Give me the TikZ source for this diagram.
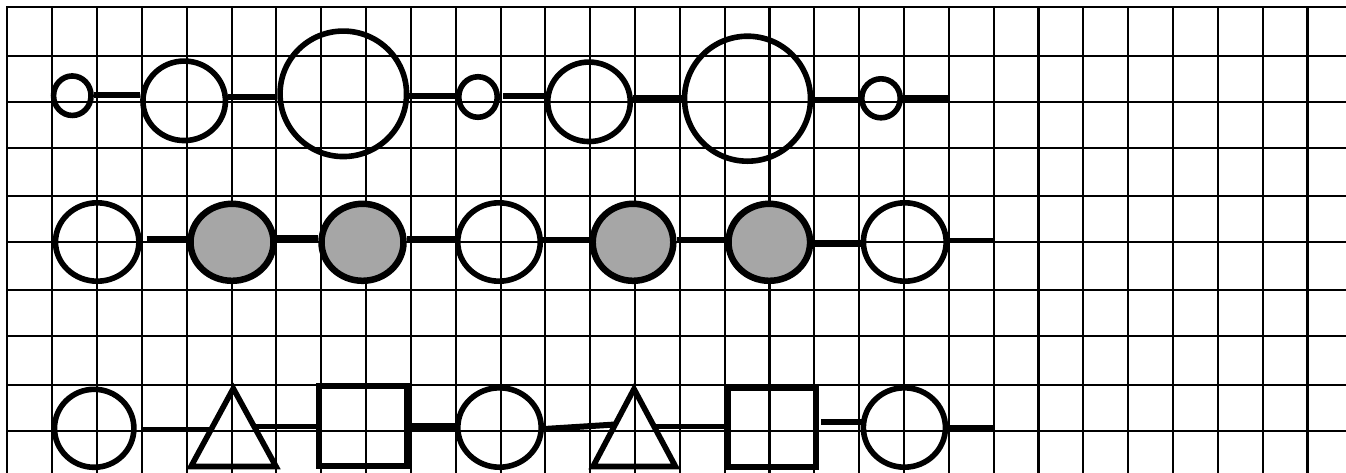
\documentclass[tikz,border=0pt]{standalone}
\usetikzlibrary{shapes.geometric,calc}
\definecolor{ink}{HTML}{000000}
\definecolor{dotfill}{HTML}{A6A6A6}

\begin{document}
\begin{tikzpicture}[
  x=1pt, y=-1pt,
  gridline/.style={draw=ink, line width=2pt, line cap=rect},
  ring/.style 2 args={
    ellipse,
    draw=ink,
    line width=5.6pt,
    inner sep=0pt,
    minimum width=#1,
    minimum height=#2
  },
  dot/.style 2 args={
    ellipse,
    draw=ink,
    fill=dotfill,
    line width=6.5pt,
    inner sep=0pt,
    minimum width=#1,
    minimum height=#2
  },
  block/.style 2 args={
    rectangle,
    draw=ink,
    line width=6pt,
    inner sep=0pt,
    minimum width=#1,
    minimum height=#2
  },
  tri/.style={draw=ink, line width=5.6pt, line join=miter},
  link/.style={draw=ink, line width=6pt},
  thinlink/.style={draw=ink, line width=5pt},
  thicklink/.style={draw=ink, line width=8pt}
]

% canvas
\useasboundingbox (0,0) rectangle (1346,472);

% Grid
\foreach \k in {0,...,29}
  \draw[gridline] ({7.3+44.84*\k},7.3) -- ({7.3+44.84*\k},472);
\foreach \k in {17,23,29}
  \draw[gridline, line width=2.8pt] ({7.3+44.84*\k},7.3) -- ({7.3+44.84*\k},472);
\foreach \y in {7.3,55.7,101.7,147.7,195.7,241.7,289.7,335.7,384.7,430.7}
  \draw[gridline] (7.3,\y) -- (1346,\y);

% Top row: circles of three sizes
\node[ring={37.5pt}{39.5pt}] (s1) at (72.3,95.7) {};
\node[ring={82.5pt}{79.5pt}] (s2) at (184.2,100.8) {};
\node[ring={126.5pt}{125.5pt}] (s3) at (343.3,93.8) {};
\node[ring={38.5pt}{40.5pt}] (s4) at (478,97) {};
\node[ring={82.5pt}{79.5pt}] (s5) at (589,101.8) {};
\node[ring={126pt}{125pt}] (s6) at (747.5,98.7) {};
\node[ring={38.5pt}{39pt}] (s7) at (881,98.3) {};

\draw[link] (s1.east |- 0,95) -- (s2.west |- 0,95);
\draw[link] (s2.east |- 0,96.7) -- (s3.west |- 0,96.7);
\draw[link] (s3.east |- 0,96) -- (s4.west |- 0,96);
\draw[link, shorten <=3pt] (s4.east |- 0,95.7) -- (s5.west |- 0,95.7);
\draw[thicklink] (s5.east |- 0,99) -- (s6.west |- 0,99);
\draw[thinlink] (s6.east |- 0,99.3) -- (s7.west |- 0,99.3);
\coordinate (e1) at (948.3,98.3);
\draw[link] (s7.east |- e1) -- (e1);

% Middle row: white and grey circles
\node[ring={83.4pt}{78.4pt}] (m1) at (97.2,242) {};
\node[dot={83pt}{77pt}] (m2) at (232,242.3) {};
\node[dot={82pt}{77pt}] (m3) at (362.5,242.3) {};
\node[ring={82.5pt}{78.4pt}] (m4) at (499,242) {};
\node[dot={80.6pt}{77pt}] (m5) at (633,242.3) {};
\node[dot={81.6pt}{77pt}] (m6) at (769.3,242.3) {};
\node[ring={82.8pt}{78.4pt}] (m7) at (904.8,242) {};

\draw[link, shorten <=5pt] (m1.east |- 0,239.3) -- (m2.west |- 0,239.3);
\draw[thicklink] (m2.east |- 0,239) -- (m3.west |- 0,239);
\draw[link] (m3.east |- 0,239.3) -- (m4.west |- 0,239.3);
\draw[link] (m4.east |- 0,240) -- (m5.west |- 0,240);
\draw[link] (m5.east |- 0,240) -- (m6.west |- 0,240);
\draw[link, line width=7pt] (m6.east |- 0,243.3) -- (m7.west |- 0,243.3);
\coordinate (e2) at (994.7,240);
\draw[thinlink] (m7.east |- e2) -- (e2);

% Bottom row: circle, triangle, square
\node[ring={79.4pt}{78pt}] (o1) at (94.2,428.3) {};
\node[block={88pt}{80.6pt}] (q1) at (363,426) {};
\node[ring={83.4pt}{79.4pt}] (o2) at (499.5,427.5) {};
\node[block={88pt}{79pt}] (q2) at (772.2,427.5) {};
\node[ring={82.1pt}{79.4pt}] (o3) at (904.4,427.5) {};

\coordinate (t1bl) at (191,466.5);
\coordinate (t1top) at (233.3,388.5);
\coordinate (t1br) at (276,466.5);
\draw[tri] (t1bl) -- (t1top) -- (t1br) -- cycle;
\coordinate (t1l) at ($(t1bl)!0.48!(t1top)$);
\coordinate (t1r) at ($(t1br)!0.51!(t1top)$);

\coordinate (t2bl) at (593,466.5);
\coordinate (t2top) at (634,389);
\coordinate (t2br) at (675.5,466.5);
\draw[tri] (t2bl) -- (t2top) -- (t2br) -- cycle;
\coordinate (t2l) at ($(t2bl)!0.542!(t2top)$);
\coordinate (t2r) at ($(t2br)!0.514!(t2top)$);

\draw[thinlink, shorten <=6pt] (o1.east |- t1l) -- (t1l);
\draw[thinlink] (t1r) -- (q1.west |- t1r);
\draw[link, line width=7pt] (q1.east |- 0,426.7) -- (o2.west |- 0,426.7);
\draw[link] (o2.east |- 0,429) -- (t2l);
\draw[thinlink] (t2r) -- (q2.west |- t2r);
\draw[link, shorten <=2pt, shorten >=-5pt] (q2.east |- 0,421.7) -- (o3.west |- 0,421.7);
\coordinate (e3) at (994.7,427.3);
\draw[thinlink] (o3.east |- e3) -- (e3);

\end{tikzpicture}
\end{document}
